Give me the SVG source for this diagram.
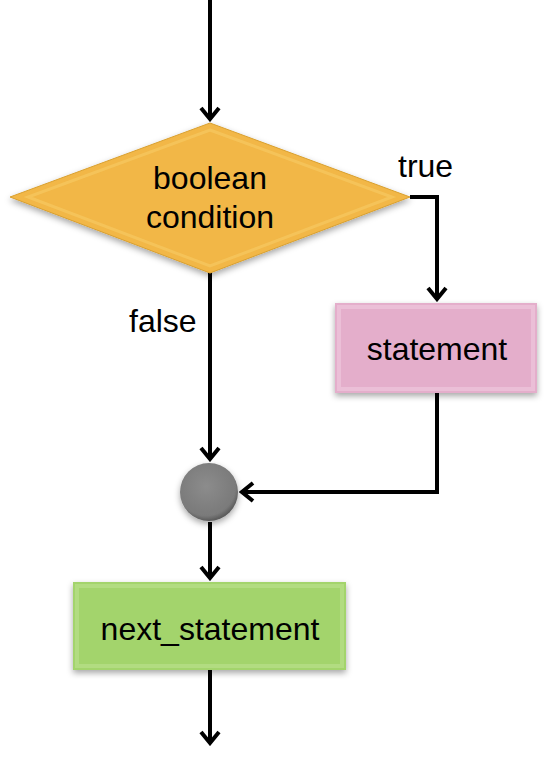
<svg xmlns="http://www.w3.org/2000/svg" width="546" height="776" viewBox="0 0 546 776">
<defs>
<filter id="sh" x="-20%" y="-20%" width="140%" height="150%">
<feDropShadow dx="0" dy="3" stdDeviation="3" flood-color="#000" flood-opacity="0.35"/>
</filter>
<radialGradient id="ball" cx="0.45" cy="0.4" r="0.6">
<stop offset="0" stop-color="#8c8c8c"/>
<stop offset="0.85" stop-color="#7a7a7a"/>
<stop offset="1" stop-color="#5a5a5a"/>
</radialGradient>
<marker id="arr" viewBox="0 0 16 22" refX="13" refY="11" markerWidth="16" markerHeight="22" markerUnits="userSpaceOnUse" orient="auto">
<path d="M2,2 L13,11 L2,20" fill="none" stroke="#000" stroke-width="4"/>
</marker>
<style>
.c{fill:none;stroke:#000;stroke-width:4;marker-end:url(#arr)}
text{font-family:"Liberation Sans",Arial,sans-serif;font-size:32px;fill:#000}
.m{text-anchor:middle}
</style>
</defs>
<g id="connectors">
<path class="c" d="M210,0 V119"/>
<path class="c" d="M410,197 H437 V299"/>
<path class="c" d="M437,393 V492 H242"/>
<path class="c" d="M210,273 V459"/>
<path class="c" d="M210,522 V578"/>
<path class="c" d="M210,670 V743"/>
</g>
<g id="decision">
<polygon points="210,123 410,197 210,273 10,197" fill="#F2B747" stroke="#D9A030" stroke-width="1" filter="url(#sh)"/>
<polygon points="210,130 392,197 210,266 28,197" fill="none" stroke="#F7CB66" stroke-width="3" opacity="0.6"/>
<text class="m" x="210" y="189">boolean</text>
<text class="m" x="210" y="228">condition</text>
</g>
<g id="labels">
<text x="398" y="177">true</text>
<text x="129" y="332">false</text>
</g>
<g id="statement">
<rect x="335" y="303" width="202" height="90" fill="#E4AECB" filter="url(#sh)"/>
<rect x="339" y="307" width="194" height="82" fill="none" stroke="#EEC6DC" stroke-width="4" opacity="0.7"/>
<text class="m" x="437" y="360">statement</text>
</g>
<g id="join">
<circle cx="209" cy="492" r="29" fill="url(#ball)" filter="url(#sh)"/>
</g>
<g id="next_statement">
<rect x="73" y="582" width="273" height="88" fill="#A3D46C" filter="url(#sh)"/>
<rect x="77" y="586" width="265" height="80" fill="none" stroke="#B8E08A" stroke-width="4" opacity="0.7"/>
<text class="m" x="210" y="640">next_statement</text>
</g>
</svg>
